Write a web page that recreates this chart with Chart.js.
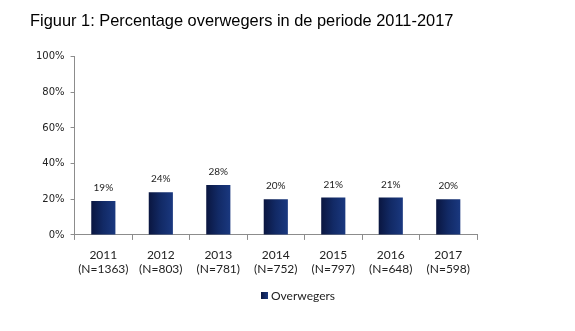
<!DOCTYPE html>
<html>
<head>
<meta charset="utf-8">
<script src="https://cdn.jsdelivr.net/npm/chart.js@4/dist/chart.umd.min.js"></script>
<style>
  html, body { margin: 0; padding: 0; background: #fff; }
  #wrap { width: 575px; height: 331px; position: relative; }
</style>
</head>
<body>
<div id="wrap"><canvas id="c" width="575" height="331"></canvas></div>
<script>
const years = ['2011', '2012', '2013', '2014', '2015', '2016', '2017'];
const sampleSizes = ['(N=1363)', '(N=803)', '(N=781)', '(N=752)', '(N=797)', '(N=648)', '(N=598)'];
const overwegers = [19, 24, 28, 20, 21, 21, 20];
const yTicks = [0, 20, 40, 60, 80, 100];
const seriesName = 'Overwegers';
const titleText = 'Figuur 1: Percentage overwegers in de periode 2011-2017';

const categories = years.map((y, i) => [y, sampleSizes[i]]);

function barGradient(context) {
  const chart = context.chart;
  const xs = chart.scales.x;
  if (!xs || context.dataIndex === undefined) return '#132d6b';
  const cx = xs.getPixelForValue(context.dataIndex);
  if (!isFinite(cx)) return '#132d6b';
  const half = 12;
  const g = chart.ctx.createLinearGradient(cx - half, 0, cx + half, 0);
  g.addColorStop(0, '#0a1640');
  g.addColorStop(0.5, '#122a66');
  g.addColorStop(1, '#1a387f');
  return g;
}

const valueLabels = {
  id: 'valueLabels',
  afterDatasetsDraw(chart) {
    const ctx = chart.ctx;
    const meta = chart.getDatasetMeta(0);
    ctx.save();
    ctx.font = '10px Lato';
    ctx.fillStyle = '#222';
    ctx.textAlign = 'center';
    ctx.textBaseline = 'middle';
    meta.data.forEach((bar, i) => {
      ctx.fillText(overwegers[i] + '%', bar.x, bar.y - 13);
    });
    ctx.restore();
  }
};

const customLegend = {
  id: 'customLegend',
  afterDraw(chart) {
    const ctx = chart.ctx;
    ctx.save();
    const bx = 261, by = 292;
    const g = ctx.createLinearGradient(bx, 0, bx + 7, 0);
    g.addColorStop(0, '#0a1640');
    g.addColorStop(1, '#1a387f');
    ctx.fillStyle = g;
    ctx.fillRect(bx, by, 7, 7);
    ctx.font = '12px Lato';
    ctx.fillStyle = '#222';
    ctx.textAlign = 'left';
    ctx.textBaseline = 'middle';
    ctx.fillText(seriesName, bx + 10, by + 4);
    ctx.restore();
  }
};

new Chart(document.getElementById('c'), {
  type: 'bar',
  data: {
    labels: categories,
    datasets: [{
      label: seriesName,
      data: overwegers,
      backgroundColor: barGradient,
      borderWidth: 0,
      categoryPercentage: 1,
      barPercentage: 0.42
    }]
  },
  options: {
    responsive: false,
    animation: false,
    layout: { padding: { left: 30, right: 98, top: 12, bottom: 47 } },
    plugins: {
      legend: { display: false },
      tooltip: { enabled: false },
      title: {
        display: true,
        text: titleText,
        align: 'start',
        color: '#000',
        font: { family: 'Liberation Sans', size: 16.4, weight: 'normal' },
        padding: { top: 0, bottom: 25 }
      }
    },
    scales: {
      x: {
        offset: true,
        grid: {
          offset: true,
          drawOnChartArea: false,
          drawTicks: true,
          tickLength: 5,
          color: '#8c8c8c'
        },
        border: { display: true, color: '#8c8c8c' },
        ticks: {
          color: '#222',
          font: { family: 'Lato', size: 12, lineHeight: 1.17 },
          padding: 8,
          maxRotation: 0,
          autoSkip: false
        }
      },
      y: {
        min: 0,
        max: 100,
        afterBuildTicks(axis) { axis.ticks = yTicks.map(v => ({ value: v })); },
        grid: {
          drawOnChartArea: false,
          drawTicks: true,
          tickLength: 4,
          color: '#8c8c8c'
        },
        border: { display: true, color: '#8c8c8c' },
        ticks: {
          color: '#222',
          font: { family: 'DejaVu Sans', size: 10 },
          padding: 6,
          callback: v => v + '%'
        }
      }
    }
  },
  plugins: [valueLabels, customLegend]
});
</script>
</body>
</html>
